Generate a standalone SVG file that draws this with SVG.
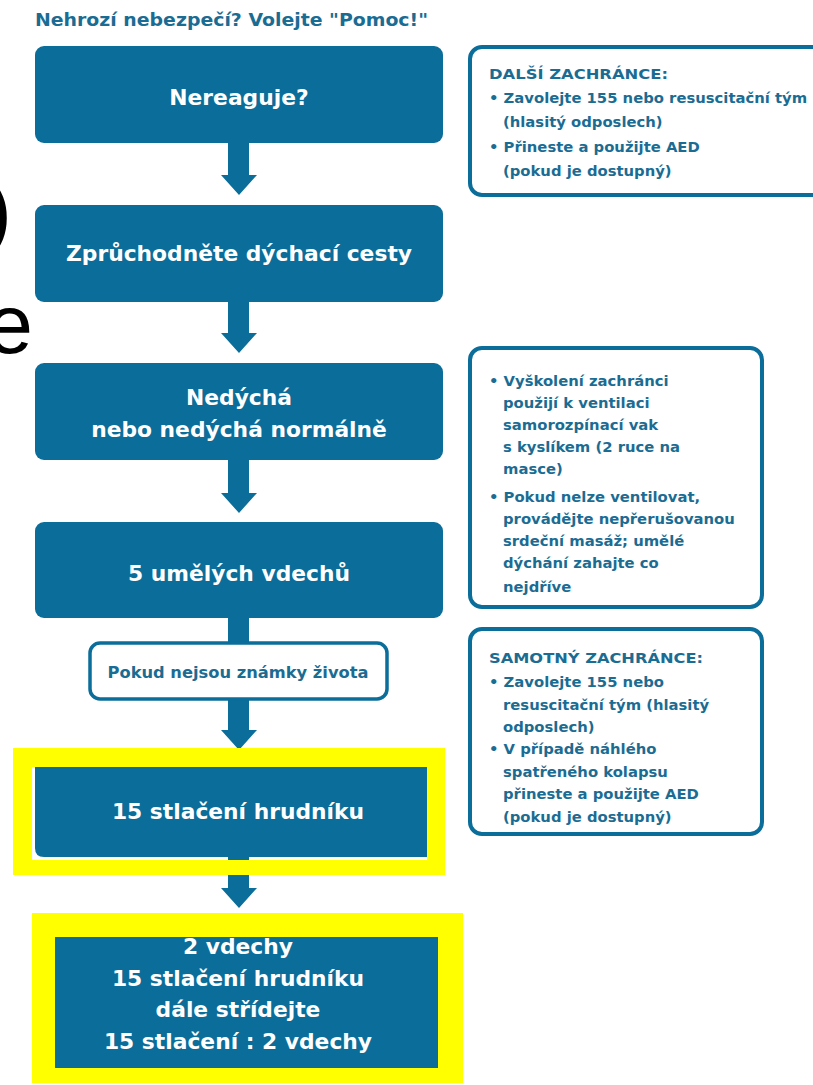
<svg xmlns="http://www.w3.org/2000/svg" width="813" height="1085" viewBox="0 0 813 1085">
<style>
.box{fill:#0b6d99}
.wt{fill:#ffffff;font-family:"DejaVu Sans","Open Sans",sans-serif;font-weight:700;font-size:21.8px;text-anchor:middle}
.tt{fill:#1b6c93;font-family:"DejaVu Sans","Open Sans",sans-serif;font-weight:700;font-size:14.8px}
.side{fill:#ffffff;stroke:#0b6d99;stroke-width:4}
.yel{fill:#ffff00}
.art{fill:#000000;font-family:"Liberation Sans",Arial,sans-serif;font-size:84px}
</style>
<rect width="813" height="1085" fill="#ffffff"/>
<text class="art" x="12" y="240" text-anchor="end">)</text>
<text class="art" x="33" y="353" text-anchor="end">e</text>
<text x="35" y="26" class="tt" style="font-size:18.5px" textLength="393" lengthAdjust="spacingAndGlyphs">Nehrozí nebezpečí? Volejte "Pomoc!"</text>
<g id="connectors" fill="#0b6d99">
<path d="M228,143 H249 V175 H257 L239,195 L221,175 H228 Z"/>
<path d="M228,302 H249 V333 H257 L239,353 L221,333 H228 Z"/>
<path d="M228,460 H249 V493 H257 L239,513 L221,493 H228 Z"/>
<rect x="228" y="618" width="21" height="25"/>
<path d="M228,699 H249 V730 H257 L239,750 L221,730 H228 Z"/>
<path d="M228,874 H249 V888 H257 L239,908 L221,888 H228 Z"/>
</g>
<g id="n1"><rect class="box" x="35" y="46" width="408" height="97" rx="9"/><text class="wt" x="239" y="105">Nereaguje?</text></g>
<g id="n2"><rect class="box" x="35" y="205" width="408" height="97" rx="9"/><text class="wt" x="239" y="261">Zprůchodněte dýchací cesty</text></g>
<g id="n3"><rect class="box" x="35" y="363" width="408" height="97" rx="9"/><text class="wt" x="239" y="405">Nedýchá</text><text class="wt" x="239" y="437">nebo nedýchá normálně</text></g>
<g id="n4"><rect class="box" x="35" y="522" width="408" height="96" rx="9"/><text class="wt" x="239" y="581">5 umělých vdechů</text></g>
<g id="n5"><rect x="90" y="643" width="297" height="56" rx="10" fill="#ffffff" stroke="#0b6d99" stroke-width="3.5"/><text class="tt" x="238" y="678" text-anchor="middle" style="font-size:16.3px">Pokud nejsou známky života</text></g>
<g id="n6"><rect class="yel" x="13" y="748" width="432" height="127"/><rect x="32" y="767" width="395" height="93" fill="#ffffff"/><path class="box" d="M35,767 H427 V857 H44 Q35,857 35,848 Z"/><rect class="box" x="228" y="857" width="21" height="3"/><text class="wt" x="238" y="819">15 stlačení hrudníku</text></g>
<g id="n7"><rect class="yel" x="32" y="913" width="431" height="170"/><rect class="box" x="55" y="937" width="383" height="131"/>
<text class="wt" x="238" y="954">2 vdechy</text><text class="wt" x="238" y="986">15 stlačení hrudníku</text><text class="wt" x="238" y="1017">dále střídejte</text><text class="wt" x="238" y="1049">15 stlačení : 2 vdechy</text></g>
<g id="sideA"><rect class="side" x="470" y="47" width="360" height="148" rx="12"/>
<text class="tt" x="489" y="79" textLength="179" lengthAdjust="spacingAndGlyphs">DALŠÍ ZACHRÁNCE:</text>
<text class="tt" x="489" y="103">• Zavolejte 155 nebo resuscitační tým</text>
<text class="tt" x="503" y="127">(hlasitý odposlech)</text>
<text class="tt" x="489" y="152">• Přineste a použijte AED</text>
<text class="tt" x="503" y="176">(pokud je dostupný)</text></g>
<g id="sideB"><rect class="side" x="470" y="348" width="292" height="259" rx="12"/>
<text class="tt" x="489" y="386">• Vyškolení zachránci</text>
<text class="tt" x="503" y="408">použijí k ventilaci</text>
<text class="tt" x="503" y="430">samorozpínací vak</text>
<text class="tt" x="503" y="452">s kyslíkem (2 ruce na</text>
<text class="tt" x="503" y="474">masce)</text>
<text class="tt" x="489" y="502">• Pokud nelze ventilovat,</text>
<text class="tt" x="503" y="524">provádějte nepřerušovanou</text>
<text class="tt" x="503" y="546">srdeční masáž; umělé</text>
<text class="tt" x="503" y="568">dýchání zahajte co</text>
<text class="tt" x="503" y="592">nejdříve</text></g>
<g id="sideC"><rect class="side" x="470" y="629" width="292" height="205" rx="12"/>
<text class="tt" x="489" y="663" textLength="214" lengthAdjust="spacingAndGlyphs">SAMOTNÝ ZACHRÁNCE:</text>
<text class="tt" x="489" y="687">• Zavolejte 155 nebo</text>
<text class="tt" x="503" y="710">resuscitační tým (hlasitý</text>
<text class="tt" x="503" y="732">odposlech)</text>
<text class="tt" x="489" y="754">• V případě náhlého</text>
<text class="tt" x="503" y="777">spatřeného kolapsu</text>
<text class="tt" x="503" y="799">přineste a použijte AED</text>
<text class="tt" x="503" y="822">(pokud je dostupný)</text></g>
</svg>
